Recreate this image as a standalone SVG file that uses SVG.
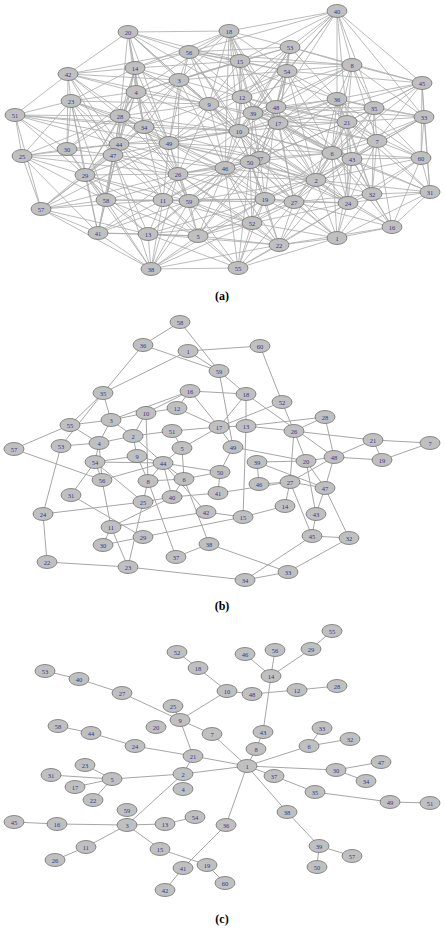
<svg xmlns="http://www.w3.org/2000/svg" width="445" height="931" viewBox="0 0 445 931">
<style>
.e{fill:none;stroke:#a9a9a9;stroke-width:0.8}
.e2{fill:none;stroke:#a6a6a6;stroke-width:1}
ellipse{fill:#c0c0c0;stroke:#707070;stroke-width:0.8}
.n text{font-family:"Liberation Serif",serif;font-size:6.5px;fill:#35358a;text-anchor:middle;dominant-baseline:central}
.cap{font-family:"Liberation Serif",serif;font-size:12px;font-weight:bold;fill:#000;text-anchor:middle}
</style>
<rect width="445" height="931" fill="#fff"/>
<g id="connectors">
<path class="e" d="M337 11L229 31M337 11L290 47M337 11L287 71M337 11L352 65M337 11L337 99M337 11L422 83M337 11L424 117M337 11L374 108M337 11L240 61M337 11L242 97M337 11L189 52M337 11L347 122M337 11L276 107M337 11L253 113
M128 32L189 52M128 32L135 68M128 32L179 80M128 32L136 92M128 32L120 116M128 32L68 74M128 32L209 104M128 32L144 127M128 32L240 61M128 32L229 31M128 32L242 97M128 32L239 131M128 32L169 143
M229 31L189 52M229 31L240 61M229 31L290 47M229 31L287 71M229 31L242 97M229 31L253 113M229 31L179 80M229 31L209 104M229 31L276 107M229 31L278 123M229 31L239 131M229 31L135 68M229 31L136 92M229 31L225 168
M189 52L135 68M189 52L179 80M189 52L209 104M189 52L240 61M189 52L242 97M189 52L290 47M189 52L287 71M189 52L352 65M189 52L337 99M189 52L68 74M189 52L169 143M189 52L239 131M189 52L260 158
M68 74L135 68M68 74L71 101M68 74L15 115M68 74L120 116M68 74L136 92M68 74L179 80M68 74L144 127M68 74L119 144M68 74L209 104M68 74L67 149M68 74L113 155
M15 115L71 101M15 115L22 156M15 115L120 116M15 115L67 149M15 115L119 144M15 115L144 127M15 115L169 143M15 115L239 131M15 115L85 175M15 115L41 209
M71 101L120 116M71 101L136 92M71 101L67 149M71 101L22 156M71 101L119 144M71 101L113 155M71 101L85 175M71 101L98 233M71 101L209 104M71 101L144 127M71 101L169 143M71 101L106 200
M22 156L67 149M22 156L85 175M22 156L41 209M22 156L119 144M22 156L120 116M22 156L113 155M22 156L98 233M22 156L106 200M22 156L178 174
M41 209L85 175M41 209L98 233M41 209L106 200M41 209L113 155M41 209L163 200M41 209L148 234M41 209L119 144M41 209L169 143M41 209L178 174M41 209L151 269
M98 233L106 200M98 233L148 234M98 233L151 269M98 233L85 175M98 233L163 200M98 233L119 144M98 233L113 155M98 233L178 174M98 233L189 201M98 233L198 236
M151 269L148 234M151 269L106 200M151 269L163 200M151 269L189 201M151 269L198 236M151 269L238 268M151 269L85 175M151 269L178 174M151 269L113 155M151 269L252 223M151 269L225 168M151 269L279 245M151 269L265 199
M238 268L198 236M238 268L279 245M238 268L252 223M238 268L265 199M238 268L337 238M238 268L148 234M238 268L189 201M238 268L225 168M238 268L163 200M238 268L294 202M238 268L250 162M238 268L348 203
M337 238L279 245M337 238L348 203M337 238L392 227M337 238L372 194M337 238L294 202M337 238L252 223M337 238L316 180M337 238L265 199M337 238L352 159M337 238L332 153M337 238L260 158M337 238L430 192M337 238L250 162
M392 227L348 203M392 227L372 194M392 227L421 158M392 227L430 192M392 227L316 180M392 227L352 159M392 227L279 245M392 227L332 153M392 227L377 141M392 227L294 202
M430 192L421 158M430 192L372 194M430 192L348 203M430 192L424 117M430 192L377 141M430 192L352 159M430 192L332 153M430 192L422 83M430 192L347 122M430 192L316 180
M421 158L424 117M421 158L422 83M421 158L352 159M421 158L332 153M421 158L377 141M421 158L372 194M421 158L348 203M421 158L374 108M421 158L347 122M421 158L337 99M421 158L316 180
M424 117L422 83M424 117L374 108M424 117L377 141M424 117L347 122M424 117L337 99M424 117L352 65M424 117L352 159M424 117L332 153M424 117L316 180M424 117L276 107
M422 83L352 65M422 83L374 108M422 83L337 99M422 83L347 122M422 83L377 141M422 83L290 47M422 83L287 71M422 83L278 123M422 83L332 153
M352 65L290 47M352 65L287 71M352 65L337 99M352 65L374 108M352 65L347 122M352 65L240 61M352 65L278 123M352 65L276 107M352 65L253 113M352 65L242 97M352 65L377 141M352 65L332 153
M290 47L287 71M290 47L240 61M290 47L242 97M290 47L253 113M290 47L276 107M290 47L278 123M290 47L337 99M290 47L209 104M290 47L179 80M290 47L239 131
M287 71L240 61M287 71L242 97M287 71L276 107M287 71L253 113M287 71L278 123M287 71L337 99M287 71L347 122M287 71L209 104M287 71L239 131M287 71L179 80M287 71L260 158M287 71L332 153M287 71L316 180
M240 61L242 97M240 61L253 113M240 61L209 104M240 61L179 80M240 61L276 107M240 61L278 123M240 61L239 131M240 61L135 68M240 61L136 92
M179 80L135 68M179 80L136 92M179 80L209 104M179 80L242 97M179 80L120 116M179 80L144 127M179 80L169 143M179 80L239 131M179 80L119 144M179 80L225 168M179 80L178 174
M135 68L136 92M135 68L120 116M135 68L144 127M135 68L209 104M135 68L71 101M135 68L169 143M135 68L119 144M135 68L239 131M135 68L113 155
M136 92L120 116M136 92L144 127M136 92L209 104M136 92L119 144M136 92L169 143M136 92L67 149M136 92L113 155M136 92L239 131M136 92L178 174M136 92L85 175
M209 104L242 97M209 104L239 131M209 104L144 127M209 104L169 143M209 104L253 113M209 104L120 116M209 104L225 168M209 104L178 174M209 104L260 158M209 104L250 162M209 104L278 123M209 104L316 180
M242 97L253 113M242 97L276 107M242 97L239 131M242 97L278 123M242 97L260 158M242 97L225 168M242 97L169 143M242 97L332 153M242 97L347 122
M120 116L144 127M120 116L119 144M120 116L67 149M120 116L113 155M120 116L169 143M120 116L239 131M120 116L85 175M120 116L178 174M120 116L106 200
M144 127L119 144M144 127L169 143M144 127L113 155M144 127L239 131M144 127L178 174M144 127L163 200M144 127L225 168M144 127L85 175M144 127L189 201M144 127L260 158
M119 144L113 155M119 144L67 149M119 144L169 143M119 144L85 175M119 144L178 174M119 144L106 200M119 144L163 200M119 144L225 168M119 144L239 131M119 144L189 201
M67 149L113 155M67 149L85 175M67 149L106 200
M113 155L85 175M113 155L169 143M113 155L178 174M113 155L106 200M113 155L163 200M113 155L189 201M113 155L148 234M113 155L225 168
M85 175L106 200M85 175L178 174M85 175L163 200M85 175L148 234M85 175L189 201M85 175L198 236M85 175L169 143
M169 143L178 174M169 143L239 131M169 143L225 168M169 143L163 200M169 143L189 201M169 143L260 158M169 143L250 162M169 143L253 113M169 143L265 199M169 143L278 123M169 143L316 180M169 143L332 153
M178 174L163 200M178 174L189 201M178 174L225 168M178 174L239 131M178 174L250 162M178 174L265 199M178 174L252 223M178 174L198 236M178 174L260 158M178 174L316 180M178 174L279 245
M106 200L163 200M106 200L148 234M106 200L189 201M106 200L225 168M106 200L198 236
M163 200L189 201M163 200L148 234M163 200L198 236M163 200L225 168M163 200L252 223M163 200L265 199M163 200L250 162
M189 201L198 236M189 201L148 234M189 201L225 168M189 201L252 223M189 201L265 199M189 201L250 162M189 201L260 158M189 201L294 202M189 201L279 245M189 201L316 180
M148 234L198 236M148 234L252 223M148 234L279 245M148 234L265 199M148 234L225 168
M198 236L252 223M198 236L279 245M198 236L265 199M198 236L225 168M198 236L294 202M198 236L250 162M198 236L260 158
M239 131L253 113M239 131L260 158M239 131L225 168M239 131L250 162M239 131L278 123M239 131L276 107M239 131L332 153M239 131L347 122M239 131L316 180M239 131L265 199M239 131L337 99M239 131L352 159M239 131L348 203
M253 113L276 107M253 113L278 123M253 113L260 158M253 113L225 168M253 113L250 162M253 113L337 99M253 113L347 122M253 113L332 153M253 113L316 180M253 113L352 159M253 113L377 141
M276 107L278 123M276 107L337 99M276 107L347 122M276 107L260 158M276 107L250 162M276 107L332 153M276 107L316 180M276 107L352 159M276 107L374 108M276 107L265 199M276 107L294 202
M278 123L337 99M278 123L347 122M278 123L260 158M278 123L250 162M278 123L332 153M278 123L352 159M278 123L316 180M278 123L377 141M278 123L374 108M278 123L225 168M278 123L294 202M278 123L348 203
M337 99L347 122M337 99L374 108M337 99L377 141M337 99L332 153M337 99L352 159M337 99L316 180M337 99L260 158M337 99L348 203M337 99L372 194
M374 108L347 122M374 108L377 141M374 108L332 153M374 108L352 159M374 108L372 194M374 108L316 180
M347 122L377 141M347 122L332 153M347 122L352 159M347 122L316 180M347 122L260 158M347 122L250 162M347 122L348 203M347 122L372 194M347 122L294 202
M377 141L332 153M377 141L352 159M377 141L372 194M377 141L348 203M377 141L316 180
M332 153L352 159M332 153L316 180M332 153L372 194M332 153L348 203M332 153L294 202M332 153L260 158M332 153L250 162M332 153L265 199
M352 159L316 180M352 159L372 194M352 159L348 203M352 159L294 202M352 159L265 199M352 159L279 245
M260 158L225 168M260 158L250 162M260 158L316 180M260 158L265 199M260 158L294 202M260 158L252 223M260 158L348 203
M225 168L250 162M225 168L265 199M225 168L252 223M225 168L294 202M225 168L316 180M225 168L279 245
M250 162L265 199M250 162L252 223M250 162L294 202M250 162L316 180M250 162L348 203M250 162L279 245
M316 180L294 202M316 180L265 199M316 180L348 203M316 180L372 194M316 180L279 245M316 180L252 223
M265 199L294 202M265 199L252 223M265 199L279 245M265 199L348 203
M294 202L252 223M294 202L279 245M294 202L348 203M294 202L372 194
M348 203L372 194M348 203L279 245M348 203L252 223M252 223L279 245"/>
<path class="e2" d="M180 322L143 345M180 322L219 371M143 345L219 371M143 345L103 393M188 351L103 393M188 351L219 371M188 351L260 346M260 346L282 402M103 393L70 425M103 393L61 446M103 393L111 420M190 391L146 413M190 391L111 420M190 391L246 394M190 391L219 427M219 371L233 447M219 371L246 394M246 394L246 426M246 394L219 427M246 394L334 457M282 402L294 431M282 402L219 427M246 426L325 417M246 426L294 431M246 426L219 427M246 426L243 517M325 417L294 431M325 417L334 457M294 431L373 440M294 431L290 482M294 431L306 461M373 440L430 443M373 440L334 457M373 440L382 460M382 460L430 443M334 457L382 460M334 457L306 461M334 457L325 488M334 457L290 482M306 461L257 462M306 461L325 488M306 461L316 514M257 462L325 488M290 482L325 488M290 482L285 506M290 482L312 536M290 482L259 484M259 484L257 462M218 493L290 482M325 488L316 514M325 488L349 538M316 514L312 536M312 536L349 538M312 536L245 580M349 538L288 572M288 572L245 580M288 572L209 544M285 506L243 517M243 517L206 512M128 567L245 580M14 449L70 425M14 449L102 480M61 446L43 514M61 446L99 443M70 425L111 420M70 425L99 443M111 420L146 413M111 420L99 443M111 420L133 436M146 413L133 436M146 413L148 481M177 408L219 427M177 408L146 413M172 431L133 436M172 431L219 427M172 431L182 448M182 448L219 427M182 448L163 463M182 448L184 479M133 436L99 443M133 436L137 456M133 436L163 463M99 443L95 462M99 443L102 480M95 462L137 456M95 462L102 480M95 462L71 495M95 462L163 463M95 462L143 502M163 463L137 456M163 463L148 481M163 463L184 479M163 463L220 472M163 463L102 480M163 463L172 497M163 463L206 512M148 481L143 502M148 481L176 557M148 481L184 479M184 479L172 497M184 479L209 544M184 479L220 472M172 497L218 493M172 497L143 502M172 497L111 527M143 502L43 514M143 502L128 567M111 527L102 480M111 527L103 545M111 527L128 567M111 527L206 512M71 495L143 537M143 537L103 545M143 537L243 517M209 544L176 557M47 562L43 514M47 562L128 567M233 447L220 472M233 447L306 461M220 472L218 493M137 456L148 481M219 427L233 447M190 391L177 408"/>
<path class="e2" d="M45 671L79 679M79 679L122 693M122 693L180 720M177 652L198 668M198 668L227 691M227 691L180 720M227 691L252 694M252 694L297 690M297 690L337 686M271 676L245 654M271 676L275 650M271 676L311 649M311 649L332 631M271 676L263 732M263 732L256 749M256 749L247 766M247 766L309 746M309 746L322 728M309 746L350 739M173 706L180 720M180 720L193 756M180 720L212 734M212 734L247 766M58 726L91 733M91 733L135 746M135 746L193 756M193 756L247 766M193 756L183 774M183 774L247 766M112 779L183 774M112 779L85 765M112 779L51 775M112 779L75 787M112 779L93 800M183 774L127 825M127 825L57 824M57 824L14 822M127 825L165 824M165 824L195 817M127 825L86 847M86 847L55 860M127 825L160 849M160 849L207 865M207 865L225 883M226 825L183 868M183 868L165 890M247 766L226 825M247 766L274 776M274 776L315 792M315 792L390 802M390 802L430 803M247 766L336 770M336 770L381 762M336 770L366 781M247 766L287 812M287 812L319 846M319 846L352 856M319 846L317 867"/>
</g>
<g class="n">
<g id="a1"><ellipse cx="337" cy="238" rx="10" ry="6.5"/><text x="337" y="238">1</text></g>
<g id="a2"><ellipse cx="316" cy="180" rx="10" ry="6.5"/><text x="316" y="180">2</text></g>
<g id="a3"><ellipse cx="179" cy="80" rx="10" ry="6.5"/><text x="179" y="80">3</text></g>
<g id="a4"><ellipse cx="136" cy="92" rx="10" ry="6.5"/><text x="136" y="92">4</text></g>
<g id="a5"><ellipse cx="198" cy="236" rx="10" ry="6.5"/><text x="198" y="236">5</text></g>
<g id="a6"><ellipse cx="332" cy="153" rx="10" ry="6.5"/><text x="332" y="153">6</text></g>
<g id="a7"><ellipse cx="377" cy="141" rx="10" ry="6.5"/><text x="377" y="141">7</text></g>
<g id="a8"><ellipse cx="352" cy="65" rx="10" ry="6.5"/><text x="352" y="65">8</text></g>
<g id="a9"><ellipse cx="209" cy="104" rx="10" ry="6.5"/><text x="209" y="104">9</text></g>
<g id="a10"><ellipse cx="239" cy="131" rx="10" ry="6.5"/><text x="239" y="131">10</text></g>
<g id="a11"><ellipse cx="163" cy="200" rx="10" ry="6.5"/><text x="163" y="200">11</text></g>
<g id="a12"><ellipse cx="242" cy="97" rx="10" ry="6.5"/><text x="242" y="97">12</text></g>
<g id="a13"><ellipse cx="148" cy="234" rx="10" ry="6.5"/><text x="148" y="234">13</text></g>
<g id="a14"><ellipse cx="135" cy="68" rx="10" ry="6.5"/><text x="135" y="68">14</text></g>
<g id="a15"><ellipse cx="240" cy="61" rx="10" ry="6.5"/><text x="240" y="61">15</text></g>
<g id="a16"><ellipse cx="392" cy="227" rx="10" ry="6.5"/><text x="392" y="227">16</text></g>
<g id="a17"><ellipse cx="278" cy="123" rx="10" ry="6.5"/><text x="278" y="123">17</text></g>
<g id="a18"><ellipse cx="229" cy="31" rx="10" ry="6.5"/><text x="229" y="31">18</text></g>
<g id="a19"><ellipse cx="265" cy="199" rx="10" ry="6.5"/><text x="265" y="199">19</text></g>
<g id="a20"><ellipse cx="128" cy="32" rx="10" ry="6.5"/><text x="128" y="32">20</text></g>
<g id="a21"><ellipse cx="347" cy="122" rx="10" ry="6.5"/><text x="347" y="122">21</text></g>
<g id="a22"><ellipse cx="279" cy="245" rx="10" ry="6.5"/><text x="279" y="245">22</text></g>
<g id="a23"><ellipse cx="71" cy="101" rx="10" ry="6.5"/><text x="71" y="101">23</text></g>
<g id="a24"><ellipse cx="348" cy="203" rx="10" ry="6.5"/><text x="348" y="203">24</text></g>
<g id="a25"><ellipse cx="22" cy="156" rx="10" ry="6.5"/><text x="22" y="156">25</text></g>
<g id="a26"><ellipse cx="178" cy="174" rx="10" ry="6.5"/><text x="178" y="174">26</text></g>
<g id="a27"><ellipse cx="294" cy="202" rx="10" ry="6.5"/><text x="294" y="202">27</text></g>
<g id="a28"><ellipse cx="120" cy="116" rx="10" ry="6.5"/><text x="120" y="116">28</text></g>
<g id="a29"><ellipse cx="85" cy="175" rx="10" ry="6.5"/><text x="85" y="175">29</text></g>
<g id="a30"><ellipse cx="67" cy="149" rx="10" ry="6.5"/><text x="67" y="149">30</text></g>
<g id="a31"><ellipse cx="430" cy="192" rx="10" ry="6.5"/><text x="430" y="192">31</text></g>
<g id="a32"><ellipse cx="372" cy="194" rx="10" ry="6.5"/><text x="372" y="194">32</text></g>
<g id="a33"><ellipse cx="424" cy="117" rx="10" ry="6.5"/><text x="424" y="117">33</text></g>
<g id="a34"><ellipse cx="144" cy="127" rx="10" ry="6.5"/><text x="144" y="127">34</text></g>
<g id="a35"><ellipse cx="374" cy="108" rx="10" ry="6.5"/><text x="374" y="108">35</text></g>
<g id="a36"><ellipse cx="337" cy="99" rx="10" ry="6.5"/><text x="337" y="99">36</text></g>
<g id="a37"><ellipse cx="260" cy="158" rx="10" ry="6.5"/><text x="260" y="158">37</text></g>
<g id="a38"><ellipse cx="151" cy="269" rx="10" ry="6.5"/><text x="151" y="269">38</text></g>
<g id="a39"><ellipse cx="253" cy="113" rx="10" ry="6.5"/><text x="253" y="113">39</text></g>
<g id="a40"><ellipse cx="337" cy="11" rx="10" ry="6.5"/><text x="337" y="11">40</text></g>
<g id="a41"><ellipse cx="98" cy="233" rx="10" ry="6.5"/><text x="98" y="233">41</text></g>
<g id="a42"><ellipse cx="68" cy="74" rx="10" ry="6.5"/><text x="68" y="74">42</text></g>
<g id="a43"><ellipse cx="352" cy="159" rx="10" ry="6.5"/><text x="352" y="159">43</text></g>
<g id="a44"><ellipse cx="119" cy="144" rx="10" ry="6.5"/><text x="119" y="144">44</text></g>
<g id="a45"><ellipse cx="422" cy="83" rx="10" ry="6.5"/><text x="422" y="83">45</text></g>
<g id="a46"><ellipse cx="225" cy="168" rx="10" ry="6.5"/><text x="225" y="168">46</text></g>
<g id="a47"><ellipse cx="113" cy="155" rx="10" ry="6.5"/><text x="113" y="155">47</text></g>
<g id="a48"><ellipse cx="276" cy="107" rx="10" ry="6.5"/><text x="276" y="107">48</text></g>
<g id="a49"><ellipse cx="169" cy="143" rx="10" ry="6.5"/><text x="169" y="143">49</text></g>
<g id="a50"><ellipse cx="250" cy="162" rx="10" ry="6.5"/><text x="250" y="162">50</text></g>
<g id="a51"><ellipse cx="15" cy="115" rx="10" ry="6.5"/><text x="15" y="115">51</text></g>
<g id="a52"><ellipse cx="252" cy="223" rx="10" ry="6.5"/><text x="252" y="223">52</text></g>
<g id="a53"><ellipse cx="290" cy="47" rx="10" ry="6.5"/><text x="290" y="47">53</text></g>
<g id="a54"><ellipse cx="287" cy="71" rx="10" ry="6.5"/><text x="287" y="71">54</text></g>
<g id="a55"><ellipse cx="238" cy="268" rx="10" ry="6.5"/><text x="238" y="268">55</text></g>
<g id="a56"><ellipse cx="189" cy="52" rx="10" ry="6.5"/><text x="189" y="52">56</text></g>
<g id="a57"><ellipse cx="41" cy="209" rx="10" ry="6.5"/><text x="41" y="209">57</text></g>
<g id="a58"><ellipse cx="106" cy="200" rx="10" ry="6.5"/><text x="106" y="200">58</text></g>
<g id="a59"><ellipse cx="189" cy="201" rx="10" ry="6.5"/><text x="189" y="201">59</text></g>
<g id="a60"><ellipse cx="421" cy="158" rx="10" ry="6.5"/><text x="421" y="158">60</text></g>

<g id="b1"><ellipse cx="188" cy="351" rx="10" ry="6.5"/><text x="188" y="351">1</text></g>
<g id="b2"><ellipse cx="133" cy="436" rx="10" ry="6.5"/><text x="133" y="436">2</text></g>
<g id="b3"><ellipse cx="111" cy="420" rx="10" ry="6.5"/><text x="111" y="420">3</text></g>
<g id="b4"><ellipse cx="99" cy="443" rx="10" ry="6.5"/><text x="99" y="443">4</text></g>
<g id="b5"><ellipse cx="182" cy="448" rx="10" ry="6.5"/><text x="182" y="448">5</text></g>
<g id="b6"><ellipse cx="184" cy="479" rx="10" ry="6.5"/><text x="184" y="479">6</text></g>
<g id="b7"><ellipse cx="430" cy="443" rx="10" ry="6.5"/><text x="430" y="443">7</text></g>
<g id="b8"><ellipse cx="148" cy="481" rx="10" ry="6.5"/><text x="148" y="481">8</text></g>
<g id="b9"><ellipse cx="137" cy="456" rx="10" ry="6.5"/><text x="137" y="456">9</text></g>
<g id="b10"><ellipse cx="146" cy="413" rx="10" ry="6.5"/><text x="146" y="413">10</text></g>
<g id="b11"><ellipse cx="111" cy="527" rx="10" ry="6.5"/><text x="111" y="527">11</text></g>
<g id="b12"><ellipse cx="177" cy="408" rx="10" ry="6.5"/><text x="177" y="408">12</text></g>
<g id="b13"><ellipse cx="246" cy="426" rx="10" ry="6.5"/><text x="246" y="426">13</text></g>
<g id="b14"><ellipse cx="285" cy="506" rx="10" ry="6.5"/><text x="285" y="506">14</text></g>
<g id="b15"><ellipse cx="243" cy="517" rx="10" ry="6.5"/><text x="243" y="517">15</text></g>
<g id="b16"><ellipse cx="190" cy="391" rx="10" ry="6.5"/><text x="190" y="391">16</text></g>
<g id="b17"><ellipse cx="219" cy="427" rx="10" ry="6.5"/><text x="219" y="427">17</text></g>
<g id="b18"><ellipse cx="246" cy="394" rx="10" ry="6.5"/><text x="246" y="394">18</text></g>
<g id="b19"><ellipse cx="382" cy="460" rx="10" ry="6.5"/><text x="382" y="460">19</text></g>
<g id="b20"><ellipse cx="306" cy="461" rx="10" ry="6.5"/><text x="306" y="461">20</text></g>
<g id="b21"><ellipse cx="373" cy="440" rx="10" ry="6.5"/><text x="373" y="440">21</text></g>
<g id="b22"><ellipse cx="47" cy="562" rx="10" ry="6.5"/><text x="47" y="562">22</text></g>
<g id="b23"><ellipse cx="128" cy="567" rx="10" ry="6.5"/><text x="128" y="567">23</text></g>
<g id="b24"><ellipse cx="43" cy="514" rx="10" ry="6.5"/><text x="43" y="514">24</text></g>
<g id="b25"><ellipse cx="143" cy="502" rx="10" ry="6.5"/><text x="143" y="502">25</text></g>
<g id="b26"><ellipse cx="294" cy="431" rx="10" ry="6.5"/><text x="294" y="431">26</text></g>
<g id="b27"><ellipse cx="290" cy="482" rx="10" ry="6.5"/><text x="290" y="482">27</text></g>
<g id="b28"><ellipse cx="325" cy="417" rx="10" ry="6.5"/><text x="325" y="417">28</text></g>
<g id="b29"><ellipse cx="143" cy="537" rx="10" ry="6.5"/><text x="143" y="537">29</text></g>
<g id="b30"><ellipse cx="103" cy="545" rx="10" ry="6.5"/><text x="103" y="545">30</text></g>
<g id="b31"><ellipse cx="71" cy="495" rx="10" ry="6.5"/><text x="71" y="495">31</text></g>
<g id="b32"><ellipse cx="349" cy="538" rx="10" ry="6.5"/><text x="349" y="538">32</text></g>
<g id="b33"><ellipse cx="288" cy="572" rx="10" ry="6.5"/><text x="288" y="572">33</text></g>
<g id="b34"><ellipse cx="245" cy="580" rx="10" ry="6.5"/><text x="245" y="580">34</text></g>
<g id="b35"><ellipse cx="103" cy="393" rx="10" ry="6.5"/><text x="103" y="393">35</text></g>
<g id="b36"><ellipse cx="143" cy="345" rx="10" ry="6.5"/><text x="143" y="345">36</text></g>
<g id="b37"><ellipse cx="176" cy="557" rx="10" ry="6.5"/><text x="176" y="557">37</text></g>
<g id="b38"><ellipse cx="209" cy="544" rx="10" ry="6.5"/><text x="209" y="544">38</text></g>
<g id="b39"><ellipse cx="257" cy="462" rx="10" ry="6.5"/><text x="257" y="462">39</text></g>
<g id="b40"><ellipse cx="172" cy="497" rx="10" ry="6.5"/><text x="172" y="497">40</text></g>
<g id="b41"><ellipse cx="218" cy="493" rx="10" ry="6.5"/><text x="218" y="493">41</text></g>
<g id="b42"><ellipse cx="206" cy="512" rx="10" ry="6.5"/><text x="206" y="512">42</text></g>
<g id="b43"><ellipse cx="316" cy="514" rx="10" ry="6.5"/><text x="316" y="514">43</text></g>
<g id="b44"><ellipse cx="163" cy="463" rx="10" ry="6.5"/><text x="163" y="463">44</text></g>
<g id="b45"><ellipse cx="312" cy="536" rx="10" ry="6.5"/><text x="312" y="536">45</text></g>
<g id="b46"><ellipse cx="259" cy="484" rx="10" ry="6.5"/><text x="259" y="484">46</text></g>
<g id="b47"><ellipse cx="325" cy="488" rx="10" ry="6.5"/><text x="325" y="488">47</text></g>
<g id="b48"><ellipse cx="334" cy="457" rx="10" ry="6.5"/><text x="334" y="457">48</text></g>
<g id="b49"><ellipse cx="233" cy="447" rx="10" ry="6.5"/><text x="233" y="447">49</text></g>
<g id="b50"><ellipse cx="220" cy="472" rx="10" ry="6.5"/><text x="220" y="472">50</text></g>
<g id="b51"><ellipse cx="172" cy="431" rx="10" ry="6.5"/><text x="172" y="431">51</text></g>
<g id="b52"><ellipse cx="282" cy="402" rx="10" ry="6.5"/><text x="282" y="402">52</text></g>
<g id="b53"><ellipse cx="61" cy="446" rx="10" ry="6.5"/><text x="61" y="446">53</text></g>
<g id="b54"><ellipse cx="95" cy="462" rx="10" ry="6.5"/><text x="95" y="462">54</text></g>
<g id="b55"><ellipse cx="70" cy="425" rx="10" ry="6.5"/><text x="70" y="425">55</text></g>
<g id="b56"><ellipse cx="102" cy="480" rx="10" ry="6.5"/><text x="102" y="480">56</text></g>
<g id="b57"><ellipse cx="14" cy="449" rx="10" ry="6.5"/><text x="14" y="449">57</text></g>
<g id="b58"><ellipse cx="180" cy="322" rx="10" ry="6.5"/><text x="180" y="322">58</text></g>
<g id="b59"><ellipse cx="219" cy="371" rx="10" ry="6.5"/><text x="219" y="371">59</text></g>
<g id="b60"><ellipse cx="260" cy="346" rx="10" ry="6.5"/><text x="260" y="346">60</text></g>

<g id="c1"><ellipse cx="247" cy="766" rx="10" ry="6.5"/><text x="247" y="766">1</text></g>
<g id="c2"><ellipse cx="183" cy="774" rx="10" ry="6.5"/><text x="183" y="774">2</text></g>
<g id="c3"><ellipse cx="127" cy="825" rx="10" ry="6.5"/><text x="127" y="825">3</text></g>
<g id="c4"><ellipse cx="183" cy="789" rx="10" ry="6.5"/><text x="183" y="789">4</text></g>
<g id="c5"><ellipse cx="112" cy="779" rx="10" ry="6.5"/><text x="112" y="779">5</text></g>
<g id="c6"><ellipse cx="309" cy="746" rx="10" ry="6.5"/><text x="309" y="746">6</text></g>
<g id="c7"><ellipse cx="212" cy="734" rx="10" ry="6.5"/><text x="212" y="734">7</text></g>
<g id="c8"><ellipse cx="256" cy="749" rx="10" ry="6.5"/><text x="256" y="749">8</text></g>
<g id="c9"><ellipse cx="180" cy="720" rx="10" ry="6.5"/><text x="180" y="720">9</text></g>
<g id="c10"><ellipse cx="227" cy="691" rx="10" ry="6.5"/><text x="227" y="691">10</text></g>
<g id="c11"><ellipse cx="86" cy="847" rx="10" ry="6.5"/><text x="86" y="847">11</text></g>
<g id="c12"><ellipse cx="297" cy="690" rx="10" ry="6.5"/><text x="297" y="690">12</text></g>
<g id="c13"><ellipse cx="165" cy="824" rx="10" ry="6.5"/><text x="165" y="824">13</text></g>
<g id="c14"><ellipse cx="271" cy="676" rx="10" ry="6.5"/><text x="271" y="676">14</text></g>
<g id="c15"><ellipse cx="160" cy="849" rx="10" ry="6.5"/><text x="160" y="849">15</text></g>
<g id="c16"><ellipse cx="57" cy="824" rx="10" ry="6.5"/><text x="57" y="824">16</text></g>
<g id="c17"><ellipse cx="75" cy="787" rx="10" ry="6.5"/><text x="75" y="787">17</text></g>
<g id="c18"><ellipse cx="198" cy="668" rx="10" ry="6.5"/><text x="198" y="668">18</text></g>
<g id="c19"><ellipse cx="207" cy="865" rx="10" ry="6.5"/><text x="207" y="865">19</text></g>
<g id="c20"><ellipse cx="156" cy="727" rx="10" ry="6.5"/><text x="156" y="727">20</text></g>
<g id="c21"><ellipse cx="193" cy="756" rx="10" ry="6.5"/><text x="193" y="756">21</text></g>
<g id="c22"><ellipse cx="93" cy="800" rx="10" ry="6.5"/><text x="93" y="800">22</text></g>
<g id="c23"><ellipse cx="85" cy="765" rx="10" ry="6.5"/><text x="85" y="765">23</text></g>
<g id="c24"><ellipse cx="135" cy="746" rx="10" ry="6.5"/><text x="135" y="746">24</text></g>
<g id="c25"><ellipse cx="173" cy="706" rx="10" ry="6.5"/><text x="173" y="706">25</text></g>
<g id="c26"><ellipse cx="55" cy="860" rx="10" ry="6.5"/><text x="55" y="860">26</text></g>
<g id="c27"><ellipse cx="122" cy="693" rx="10" ry="6.5"/><text x="122" y="693">27</text></g>
<g id="c28"><ellipse cx="337" cy="686" rx="10" ry="6.5"/><text x="337" y="686">28</text></g>
<g id="c29"><ellipse cx="311" cy="649" rx="10" ry="6.5"/><text x="311" y="649">29</text></g>
<g id="c30"><ellipse cx="336" cy="770" rx="10" ry="6.5"/><text x="336" y="770">30</text></g>
<g id="c31"><ellipse cx="51" cy="775" rx="10" ry="6.5"/><text x="51" y="775">31</text></g>
<g id="c32"><ellipse cx="350" cy="739" rx="10" ry="6.5"/><text x="350" y="739">32</text></g>
<g id="c33"><ellipse cx="322" cy="728" rx="10" ry="6.5"/><text x="322" y="728">33</text></g>
<g id="c34"><ellipse cx="366" cy="781" rx="10" ry="6.5"/><text x="366" y="781">34</text></g>
<g id="c35"><ellipse cx="315" cy="792" rx="10" ry="6.5"/><text x="315" y="792">35</text></g>
<g id="c36"><ellipse cx="226" cy="825" rx="10" ry="6.5"/><text x="226" y="825">36</text></g>
<g id="c37"><ellipse cx="274" cy="776" rx="10" ry="6.5"/><text x="274" y="776">37</text></g>
<g id="c38"><ellipse cx="287" cy="812" rx="10" ry="6.5"/><text x="287" y="812">38</text></g>
<g id="c39"><ellipse cx="319" cy="846" rx="10" ry="6.5"/><text x="319" y="846">39</text></g>
<g id="c40"><ellipse cx="79" cy="679" rx="10" ry="6.5"/><text x="79" y="679">40</text></g>
<g id="c41"><ellipse cx="183" cy="868" rx="10" ry="6.5"/><text x="183" y="868">41</text></g>
<g id="c42"><ellipse cx="165" cy="890" rx="10" ry="6.5"/><text x="165" y="890">42</text></g>
<g id="c43"><ellipse cx="263" cy="732" rx="10" ry="6.5"/><text x="263" y="732">43</text></g>
<g id="c44"><ellipse cx="91" cy="733" rx="10" ry="6.5"/><text x="91" y="733">44</text></g>
<g id="c45"><ellipse cx="14" cy="822" rx="10" ry="6.5"/><text x="14" y="822">45</text></g>
<g id="c46"><ellipse cx="245" cy="654" rx="10" ry="6.5"/><text x="245" y="654">46</text></g>
<g id="c47"><ellipse cx="381" cy="762" rx="10" ry="6.5"/><text x="381" y="762">47</text></g>
<g id="c48"><ellipse cx="252" cy="694" rx="10" ry="6.5"/><text x="252" y="694">48</text></g>
<g id="c49"><ellipse cx="390" cy="802" rx="10" ry="6.5"/><text x="390" y="802">49</text></g>
<g id="c50"><ellipse cx="317" cy="867" rx="10" ry="6.5"/><text x="317" y="867">50</text></g>
<g id="c51"><ellipse cx="430" cy="803" rx="10" ry="6.5"/><text x="430" y="803">51</text></g>
<g id="c52"><ellipse cx="177" cy="652" rx="10" ry="6.5"/><text x="177" y="652">52</text></g>
<g id="c53"><ellipse cx="45" cy="671" rx="10" ry="6.5"/><text x="45" y="671">53</text></g>
<g id="c54"><ellipse cx="195" cy="817" rx="10" ry="6.5"/><text x="195" y="817">54</text></g>
<g id="c55"><ellipse cx="332" cy="631" rx="10" ry="6.5"/><text x="332" y="631">55</text></g>
<g id="c56"><ellipse cx="275" cy="650" rx="10" ry="6.5"/><text x="275" y="650">56</text></g>
<g id="c57"><ellipse cx="352" cy="856" rx="10" ry="6.5"/><text x="352" y="856">57</text></g>
<g id="c58"><ellipse cx="58" cy="726" rx="10" ry="6.5"/><text x="58" y="726">58</text></g>
<g id="c59"><ellipse cx="127" cy="810" rx="10" ry="6.5"/><text x="127" y="810">59</text></g>
<g id="c60"><ellipse cx="225" cy="883" rx="10" ry="6.5"/><text x="225" y="883">60</text></g>
</g>
<text class="cap" x="222" y="300">(a)</text>
<text class="cap" x="222" y="610">(b)</text>
<text class="cap" x="222" y="923">(c)</text>
</svg>
